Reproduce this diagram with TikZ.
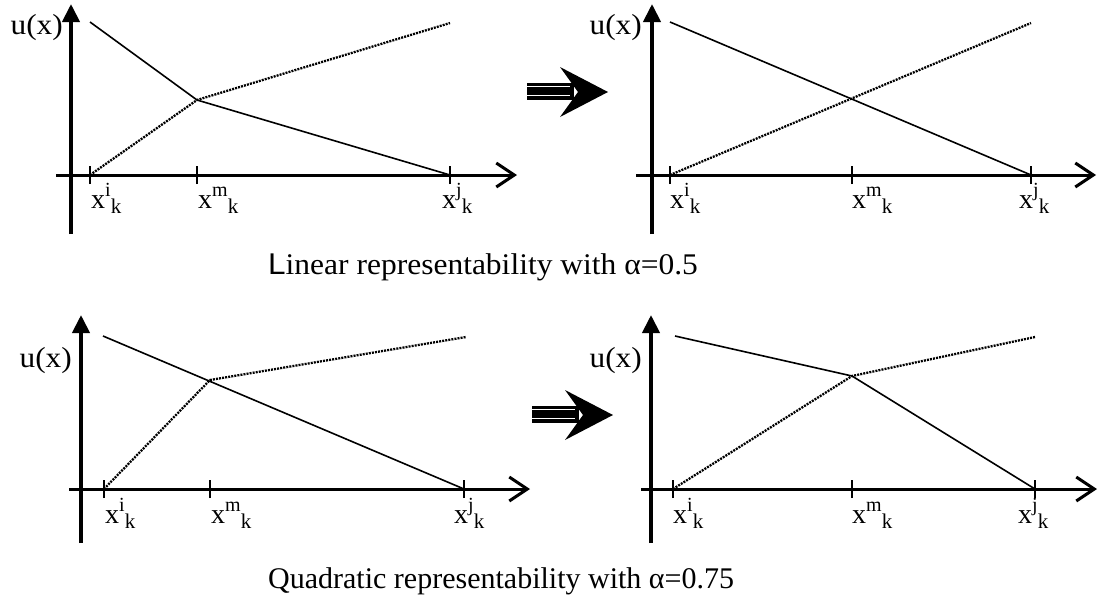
\documentclass[tikz,border=0pt]{standalone}
\usepackage{fontspec}
\setmainfont{Liberation Serif}
\newfontfamily\sansL{Liberation Sans}
\usetikzlibrary{arrows.meta}
\newcommand{\xlab}[1]{x\raisebox{12pt}{\fontsize{20}{20}\selectfont #1}\raisebox{-5pt}{\fontsize{21}{21}\selectfont k}}
\newcommand{\ux}{\scalebox{1.08}[1]{u(x)}}
\tikzset{
  yax/.style={line width=4pt, -{Triangle[length=18pt,width=17pt]}},
  xax/.style={line width=3pt, -{Straight Barb[length=18pt,width=24pt,line width=3pt]}},
  tickmark/.style={line width=1.5pt},
  solidline/.style={line width=1.6pt},
  dotline/.style={line width=2.3pt, dash pattern=on 2pt off 1.1pt},
  lab/.style={inner sep=0pt, font=\fontsize{28}{28}\selectfont, anchor=base west},
  ulab/.style={inner sep=0pt, font=\fontsize{29}{29}\selectfont, anchor=base east},
  captext/.style={inner sep=0pt, font=\fontsize{30}{30}\selectfont, anchor=base west},
}
\newcommand{\bigarrow}{%
  \fill (527,83.3) rectangle (574,100);
  \draw[white, line width=0.8pt] (527,86) -- (570,86) (527,95.5) -- (570,95.5);
  \fill (608,92) -- (560,67) -- (578,92) -- (560,117) -- cycle;
}
\begin{document}
\begin{tikzpicture}[x=1pt,y=-1pt]
\useasboundingbox (0,0) rectangle (1098,603);

% ---------- top left ----------
\coordinate (tlO) at (71,234);
\coordinate (tlY) at (71,4);
\coordinate (tlX0) at (56,175);
\coordinate (tlX1) at (517,175);
\coordinate (tla) at (90,175);
\coordinate (tlm) at (197,175);
\coordinate (tlj) at (450,175);
\coordinate (tls0) at (90,22);
\coordinate (tlk) at (197,100);
\coordinate (tld1) at (450,23);
\draw[yax] (tlO) -- (tlY);
\draw[xax] (tlX0) -- (tlX1);
\foreach \c in {tla,tlm,tlj} \draw[tickmark] ([yshift=-9pt]\c) -- ([yshift=9pt]\c);
\draw[solidline] (tls0) -- (tlk) -- (tlj);
\draw[dotline] (tla) -- (tlk) -- (tld1);
\node[ulab] (tlu) at (63,34) {\ux};
\node[lab] (tll1) at (91,208) {\xlab{i}};
\node[lab] (tll2) at (198,208) {\xlab{m}};
\node[lab] (tll3) at (442,208) {\xlab{j}};

% ---------- top right ----------
\coordinate (trO) at (652,234);
\coordinate (trY) at (652,4);
\coordinate (trX0) at (636,175);
\coordinate (trX1) at (1096,175);
\coordinate (tra) at (670,175);
\coordinate (trm) at (852,175);
\coordinate (trj) at (1031,175);
\coordinate (trs0) at (670,22);
\coordinate (trd1) at (1031,23);
\draw[yax] (trO) -- (trY);
\draw[xax] (trX0) -- (trX1);
\foreach \c in {tra,trm,trj} \draw[tickmark] ([yshift=-9pt]\c) -- ([yshift=9pt]\c);
\draw[solidline] (trs0) -- (trj);
\draw[dotline] (tra) -- (trd1);
\node[ulab] (tru) at (642,34) {\ux};
\node[lab] (trl1) at (670,208) {\xlab{i}};
\node[lab] (trl2) at (852,208) {\xlab{m}};
\node[lab] (trl3) at (1019,208) {\xlab{j}};

\bigarrow
\node[captext] (cap1) at (268,274) {\scalebox{1.05}[1]{{\sansL L}inear representability with α=0.5}};

% ---------- bottom left ----------
\coordinate (blO) at (81,543);
\coordinate (blY) at (81,315);
\coordinate (blX0) at (69,489);
\coordinate (blX1) at (530,489);
\coordinate (bla) at (104,489);
\coordinate (blm) at (210,489);
\coordinate (blj) at (464,489);
\coordinate (bls0) at (103,336);
\coordinate (blk) at (210,380);
\coordinate (bld1) at (466,337);
\draw[yax] (blO) -- (blY);
\draw[xax] (blX0) -- (blX1);
\foreach \c in {bla,blm,blj} \draw[tickmark] ([yshift=-9pt]\c) -- ([yshift=9pt]\c);
\draw[solidline] (bls0) -- (blj);
\draw[dotline] (bla) -- (blk) -- (bld1);
\node[ulab] (blu) at (72,367) {\ux};
\node[lab] (bll1) at (105,523) {\xlab{i}};
\node[lab] (bll2) at (211,523) {\xlab{m}};
\node[lab] (bll3) at (454,523) {\xlab{j}};

% ---------- bottom right ----------
\coordinate (brO) at (651,543);
\coordinate (brY) at (651,315);
\coordinate (brX0) at (641,489);
\coordinate (brX1) at (1097,489);
\coordinate (bra) at (673,489);
\coordinate (brm) at (852,489);
\coordinate (brj) at (1035,489);
\coordinate (brs0) at (675,336);
\coordinate (brk) at (852,376);
\coordinate (brd1) at (1035,337);
\draw[yax] (brO) -- (brY);
\draw[xax] (brX0) -- (brX1);
\foreach \c in {bra,brm,brj} \draw[tickmark] ([yshift=-9pt]\c) -- ([yshift=9pt]\c);
\draw[solidline] (brs0) -- (brk) -- (brj);
\draw[dotline] (bra) -- (brk) -- (brd1);
\node[ulab] (bru) at (642,367) {\ux};
\node[lab] (brl1) at (673,523) {\xlab{i}};
\node[lab] (brl2) at (852,523) {\xlab{m}};
\node[lab] (brl3) at (1018,523) {\xlab{j}};

\begin{scope}[shift={(5,323)}]
\bigarrow
\end{scope}
\node[captext] (cap2) at (268,588) {Quadratic representability with α=0.75};
\end{tikzpicture}
\end{document}
